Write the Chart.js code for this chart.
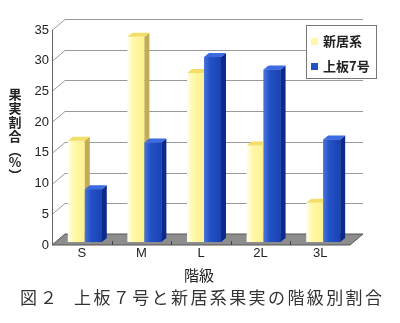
<!DOCTYPE html>
<html>
<head>
<meta charset="utf-8">
<script src="https://cdn.jsdelivr.net/npm/chart.js@4.4.1/dist/chart.umd.min.js"></script>
<style>
  html, body { margin: 0; padding: 0; background: #fff; }
  canvas { display: block; }
</style>
</head>
<body>
<canvas id="c" width="400" height="323"></canvas>
<script>
// data (percent of fruit per size class)
const sizeClasses = ["S", "M", "L", "2L", "3L"];
const niiiValues = [16.5, 33.4, 27.5, 15.7, 6.4];      // 新居系
const kamiitaValues = [8.6, 16.2, 30.1, 28.1, 16.7];   // 上板7号
const seriesNames = ["新居系", "上板7号"];
const yTicks = [0, 5, 10, 15, 20, 25, 30, 35];

const yAxisTitle = ["果", "実", "割", "合", "︵", "%", "︶"];
const xAxisTitle = "階級";
const caption = "図２　上板７号と新居系果実の階級別割合";

const WALL = { x: 13, y: -11 };   // depth of the back wall
const BAR_SHIFT = { x: 3, y: -3 }; // bars sit a bit behind the front edge
const BAR_DEPTH = { x: 5, y: -4 };

const CAT_PCT = 0.57;

const faceColors = [
    { light: "#fffff0", front: "#fff8a8", dark: "#fff190", top: "#f4de6a", side: "#c2ad55" },
    { light: "#4a74dc", front: "#2352c6", dark: "#1a42b4", top: "#3c6ae2", side: "#0b2a8c" },
];

function frontGradient(dsIndex) {
    return function (context) {
        const chart = context.chart;
        const xs = chart.scales.x;
        if (!xs || !chart.chartArea) { return faceColors[dsIndex].front; }
        const catW = xs.width / sizeClasses.length;
        const center = xs.getPixelForValue(context.dataIndex);
        const barW = catW * CAT_PCT / 2;
        const left = dsIndex == 0 ? center - barW : center;
        const g = chart.ctx.createLinearGradient(left, 0, left + barW, 0);
        g.addColorStop(0, faceColors[dsIndex].light);
        g.addColorStop(0.35, faceColors[dsIndex].front);
        g.addColorStop(1, faceColors[dsIndex].dark);
        return g;
    };
}

function drawFaces(ctx, bar, colors) {
    const p = bar.getProps(["x", "y", "base", "width"], true);
    const left = p.x - p.width / 2;
    const right = p.x + p.width / 2;
    // side
    ctx.fillStyle = colors.side;
    ctx.beginPath();
    ctx.moveTo(right, p.y);
    ctx.lineTo(right + BAR_DEPTH.x, p.y + BAR_DEPTH.y);
    ctx.lineTo(right + BAR_DEPTH.x, p.base + BAR_DEPTH.y);
    ctx.lineTo(right, p.base);
    ctx.closePath();
    ctx.fill();
    // top
    ctx.fillStyle = colors.top;
    ctx.beginPath();
    ctx.moveTo(left, p.y);
    ctx.lineTo(left + BAR_DEPTH.x, p.y + BAR_DEPTH.y);
    ctx.lineTo(right + BAR_DEPTH.x, p.y + BAR_DEPTH.y);
    ctx.lineTo(right, p.y);
    ctx.closePath();
    ctx.fill();
}

const depthPlugin = {
    id: "depth3d",
    beforeDatasetsDraw(chart) {
        const ctx = chart.ctx;
        const area = chart.chartArea;
        const ys = chart.scales.y;
        const L = area.left, R = area.right;
        const B = ys.getPixelForValue(0);
        ctx.save();
        // floor
        ctx.fillStyle = "#8d8d8d";
        ctx.beginPath();
        ctx.moveTo(L, B);
        ctx.lineTo(R, B);
        ctx.lineTo(R + WALL.x, B + WALL.y);
        ctx.lineTo(L + WALL.x, B + WALL.y);
        ctx.closePath();
        ctx.fill();
        ctx.strokeStyle = "#555";
        ctx.lineWidth = 1;
        ctx.stroke();
        // back wall grid + left wall diagonals
        ctx.strokeStyle = "#999";
        yTicks.forEach(function (v) {
            if (v == 0) { return; }
            const yp = Math.round(ys.getPixelForValue(v)) + 0.5;
            ctx.beginPath();
            ctx.moveTo(L, yp);
            ctx.lineTo(L + WALL.x, yp + WALL.y);
            ctx.lineTo(R + WALL.x, yp + WALL.y);
            ctx.stroke();
        });
        // front vertical axis
        ctx.strokeStyle = "#666";
        ctx.beginPath();
        ctx.moveTo(Math.round(L) + 0.5, B);
        ctx.lineTo(Math.round(L) + 0.5, ys.getPixelForValue(35));
        ctx.stroke();
        // category boundary ticks
        const catW = (R - L) / sizeClasses.length;
        ctx.strokeStyle = "#444";
        for (let k = 1; k < sizeClasses.length; k++) {
            const xp = Math.round(L + k * catW) + 0.5;
            ctx.beginPath();
            ctx.moveTo(xp, B - 4);
            ctx.lineTo(xp, B);
            ctx.stroke();
        }
        ctx.restore();
        ctx.save();
        ctx.translate(BAR_SHIFT.x, BAR_SHIFT.y);
    },
    afterDatasetsDraw(chart) {
        const ctx = chart.ctx;
        const yellow = chart.getDatasetMeta(0).data;
        const blue = chart.getDatasetMeta(1).data;
        yellow.forEach(function (bar) { drawFaces(ctx, bar, faceColors[0]); });
        blue.forEach(function (bar) {
            bar.draw(ctx);
            drawFaces(ctx, bar, faceColors[1]);
        });
        ctx.restore();
    },
    afterDraw(chart) {
        const ctx = chart.ctx;
        ctx.save();
        // legend box
        ctx.fillStyle = "#fff";
        ctx.fillRect(306.5, 25.5, 70, 53);
        ctx.strokeStyle = "#777";
        ctx.lineWidth = 1;
        ctx.strokeRect(306.5, 25.5, 70, 53);
        ctx.font = "bold 13px 'Noto Sans CJK JP'";
        ctx.textBaseline = "middle";
        ctx.textAlign = "left";
        const rowY = [41, 66];
        seriesNames.forEach(function (name, i) {
            ctx.fillStyle = faceColors[i].front;
            ctx.fillRect(311, rowY[i] - 3, 7, 7);
            ctx.fillStyle = "#222";
            ctx.fillText(name, 323, rowY[i]);
        });
        // y axis title, stacked upright
        ctx.textAlign = "center";
        ctx.font = "bold 13px 'Noto Sans CJK JP'";
        const titleY = [94, 108, 122, 136, 150, 162, 175];
        yAxisTitle.forEach(function (ch, i) {
            ctx.fillText(ch, 15, titleY[i]);
        });
        // x axis title
        ctx.font = "15px 'Noto Sans CJK JP'";
        ctx.fillText(xAxisTitle, 199, 275);
        // caption
        ctx.fillStyle = "#333";
        ctx.font = "17px 'Noto Sans CJK JP'";
        ctx.textAlign = "left";
        const chars = Array.from(caption);
        ctx.fillText(chars[0], 20, 298);
        ctx.fillText(chars[1], 40, 298);
        for (let i = 3; i < chars.length; i++) {
            ctx.fillText(chars[i], 74 + (i - 3) * 19.4, 298);
        }
        ctx.restore();
    }
};

new Chart(document.getElementById("c"), {
    type: "bar",
    data: {
        labels: sizeClasses,
        datasets: [
            {
                label: seriesNames[0],
                data: niiiValues,
                backgroundColor: frontGradient(0),
                borderWidth: 0,
                clip: false,
            },
            {
                label: seriesNames[1],
                data: kamiitaValues,
                backgroundColor: frontGradient(1),
                borderWidth: 0,
                clip: false,
            },
        ],
    },
    options: {
        responsive: false,
        devicePixelRatio: 1,
        animation: false,
        categoryPercentage: CAT_PCT,
        barPercentage: 1,
        layout: { padding: { left: 22, right: 50, top: 30, bottom: 56 } },
        plugins: {
            legend: { display: false },
            tooltip: { enabled: false },
        },
        scales: {
            x: {
                grid: { display: false, drawTicks: false },
                border: { display: false },
                ticks: {
                    color: "#222",
                    padding: 1,
                    font: { family: "'Liberation Sans', Arial", size: 13 },
                },
                afterFit: function (s) { s.height = 22; },
            },
            y: {
                min: 0,
                max: 35,
                grid: { display: false, drawTicks: false },
                border: { display: false },
                ticks: {
                    stepSize: 5,
                    color: "#222",
                    padding: 3,
                    font: { family: "'Liberation Sans', Arial", size: 13 },
                },
                afterFit: function (s) { s.width = 30; },
            },
        },
    },
    plugins: [depthPlugin],
});
</script>
</body>
</html>
